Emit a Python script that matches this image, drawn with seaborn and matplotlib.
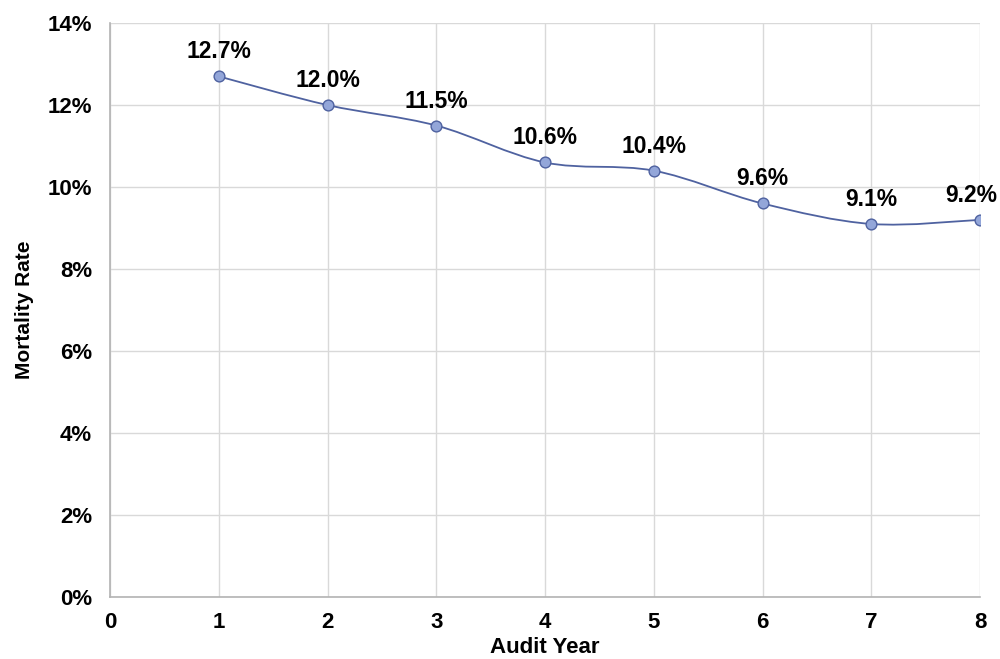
import numpy as np
import pandas as pd
import matplotlib
matplotlib.use("Agg")
import matplotlib.pyplot as plt
from matplotlib.path import Path
from matplotlib.patches import PathPatch
import seaborn as sns

years = [1, 2, 3, 4, 5, 6, 7, 8]
mortality = [12.7, 12.0, 11.5, 10.6, 10.4, 9.6, 9.1, 9.2]
labels = ["12.7%", "12.0%", "11.5%", "10.6%", "10.4%", "9.6%", "9.1%", "9.2%"]
x_ticks = [0, 1, 2, 3, 4, 5, 6, 7, 8]
y_ticks = [0, 2, 4, 6, 8, 10, 12, 14]

df = pd.DataFrame({"Audit Year": years, "Mortality Rate": mortality})

sns.set_theme(style="white")
plt.rcParams['font.family'] = ['Liberation Sans', 'DejaVu Sans']
plt.rcParams['text.color'] = 'black'

fig = plt.figure(figsize=(10, 6.59), dpi=100)
ax = fig.add_axes([0.11, 0.094, 0.87, 0.871])

# smooth curve (Catmull-Rom -> cubic Bezier) through the data points
xs = np.array(years, float)
ys = np.array(mortality, float)
verts = [(xs[0], ys[0])]
codes = [Path.MOVETO]
n = len(xs)
for i in range(n - 1):
    p0 = (xs[max(i - 1, 0)], ys[max(i - 1, 0)])
    p1 = (xs[i], ys[i])
    p2 = (xs[i + 1], ys[i + 1])
    p3 = (xs[min(i + 2, n - 1)], ys[min(i + 2, n - 1)])
    t = 1 / 6
    c1 = (p1[0] + (p2[0] - p0[0]) * t, p1[1] + (p2[1] - p0[1]) * t)
    c2 = (p2[0] - (p3[0] - p1[0]) * t, p2[1] - (p3[1] - p1[1]) * t)
    verts += [c1, c2, p2]
    codes += [Path.CURVE4] * 3
ax.add_patch(PathPatch(Path(verts, codes), facecolor="none",
                       edgecolor="#4f62a0", lw=1.3, zorder=3))

sns.scatterplot(data=df, x="Audit Year", y="Mortality Rate", ax=ax,
                s=60, color="#93a6d9", edgecolor="#4f62a0", linewidth=1.0,
                zorder=4, legend=False)

for i, (xv, yv, lab) in enumerate(zip(years, mortality, labels)):
    dx = -6 if i == len(years) - 1 else 0
    ax.annotate(lab, (xv, yv), xytext=(dx, 13), textcoords="offset points",
                ha="center", va="baseline", fontsize=16.5, fontweight="bold",
                color="black", annotation_clip=False)

ax.set_xlim(0, 8)
ax.set_ylim(0, 14)
ax.set_xticks(x_ticks)
ax.set_yticks(y_ticks)
ax.set_yticklabels([f"{v}%" for v in y_ticks])
ax.tick_params(axis="y", labelsize=16, length=0, pad=13, labelcolor="black")
ax.tick_params(axis="x", labelsize=16, length=0, pad=11, labelcolor="black")
for lab in ax.get_xticklabels() + ax.get_yticklabels():
    lab.set_fontweight("bold")
ax.grid(True, color="#d9d9d9", lw=1)
ax.set_axisbelow(True)
for s in ["top", "right"]:
    ax.spines[s].set_visible(False)
for s in ["left", "bottom"]:
    ax.spines[s].set_color("#b3b3b3")
    ax.spines[s].set_linewidth(1.2)
ax.set_xlabel("Audit Year", fontsize=16, fontweight="bold", labelpad=3,
              color="black")
ax.set_ylabel("Mortality Rate", fontsize=15, fontweight="bold", labelpad=10,
              color="black")

fig.savefig("out.png", dpi=100)
